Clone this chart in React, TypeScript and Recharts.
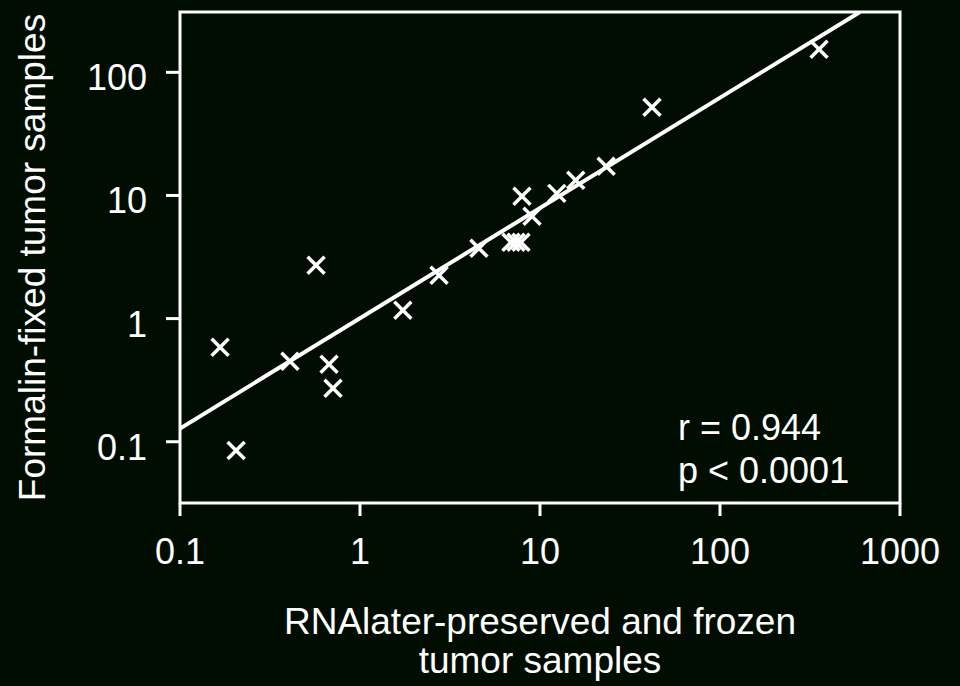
import { ScatterChart, Scatter, XAxis, YAxis, ReferenceArea } from 'recharts';

// values
const rnaLater = [0.167, 0.205, 0.408, 0.57, 0.673, 0.708, 1.73, 2.75, 4.58, 6.9, 7.36, 7.84, 7.94, 9.03, 12.4, 15.8, 23.3, 41.9, 355];
const formalin = [0.585, 0.085, 0.45, 2.71, 0.425, 0.272, 1.17, 2.25, 3.72, 4.17, 4.17, 4.17, 9.86, 6.78, 10.4, 13.3, 17.3, 52.1, 154];

// regression line end points
const fitX = [0.1, 599];
const fitY = [0.128, 309];

const xTicks = [0.1, 1, 10, 100, 1000];
const yTicks = [0.1, 1, 10, 100];
const xDomain = [0.1, 1000];
const yDomain = [0.0318, 309];

const points = rnaLater.map((x, i) => ({ x, y: formalin[i] }));
const fitLine = fitX.map((x, i) => ({ x, y: fitY[i] }));

const BG = '#000d00';
const FONT = '"Liberation Sans", Arial, sans-serif';

const Cross = (props: any) => {
  const { cx, cy } = props;
  if (cx == null || cy == null) return <g />;
  const h = 8.5;
  return (
    <g stroke="#fff" strokeWidth={3.5} strokeLinecap="butt">
      <line x1={cx - h} y1={cy - h} x2={cx + h} y2={cy + h} />
      <line x1={cx - h} y1={cy + h} x2={cx + h} y2={cy - h} />
    </g>
  );
};

const XTick = ({ x, y, payload }: any) => (
  <text x={x} y={y} dy="0.71em" textAnchor="middle" fill="#fff" fontSize={36} fontFamily={FONT}>
    {payload.value}
  </text>
);

const YTick = ({ x, y, payload }: any) => (
  <text x={x} y={y} dy="0.5em" textAnchor="end" fill="#fff" fontSize={36} fontFamily={FONT}>
    {payload.value}
  </text>
);

const XTitle = ({ viewBox }: any) => {
  const cx = viewBox.x + viewBox.width / 2;
  return (
    <text textAnchor="middle" fill="#fff" fontSize={37} fontFamily={FONT}>
      <tspan x={cx} y={viewBox.y + 131}>RNAlater-preserved and frozen</tspan>
      <tspan x={cx} y={viewBox.y + 170}>tumor samples</tspan>
    </text>
  );
};

const YTitle = ({ viewBox }: any) => {
  const cx = 45;
  const cy = viewBox.y + viewBox.height / 2;
  return (
    <text x={cx} y={cy} transform={`rotate(-90, ${cx}, ${cy})`} textAnchor="middle" fill="#fff" fontSize={37} fontFamily={FONT}>
      Formalin-fixed tumor samples
    </text>
  );
};

const Stats = ({ viewBox }: any) => {
  const left = viewBox.x + 498;
  const bottom = viewBox.y + viewBox.height;
  return (
    <text fill="#fff" fontSize={36} fontFamily={FONT}>
      <tspan x={left} y={bottom - 63}>r = 0.944</tspan>
      <tspan x={left} y={bottom - 20}>p &lt; 0.0001</tspan>
    </text>
  );
};

export default function App() {
  return (
    <div style={{ position: 'absolute', left: 0, top: 0, width: 960, height: 686, background: BG }}>
      <ScatterChart width={960} height={686} margin={{ top: 12, right: 60, left: 0, bottom: 0 }}>
        <XAxis
          type="number"
          dataKey="x"
          scale="log"
          domain={xDomain}
          ticks={xTicks}
          allowDataOverflow
          axisLine={false}
          tickLine={{ stroke: '#fff', strokeWidth: 3 }}
          tickSize={13}
          tickMargin={22}
          tick={<XTick />}
          height={183}
          label={{ content: <XTitle /> }}
        />
        <YAxis
          type="number"
          dataKey="y"
          scale="log"
          domain={yDomain}
          ticks={yTicks}
          allowDataOverflow
          axisLine={false}
          tickLine={{ stroke: '#fff', strokeWidth: 3 }}
          tickSize={14}
          tickMargin={19}
          tick={<YTick />}
          width={180}
          label={{ content: <YTitle /> }}
        />
        <ReferenceArea
          x1={xDomain[0]}
          x2={xDomain[1]}
          y1={yDomain[0]}
          y2={yDomain[1]}
          fill="none"
          stroke="#fff"
          strokeWidth={3}
          fillOpacity={0}
          label={{ content: <Stats /> }}
        />
        <Scatter
          data={fitLine}
          line={{ stroke: '#fff', strokeWidth: 4 }}
          shape={() => <g />}
          isAnimationActive={false}
        />
        <Scatter data={points} shape={<Cross />} isAnimationActive={false} />
      </ScatterChart>
    </div>
  );
}
